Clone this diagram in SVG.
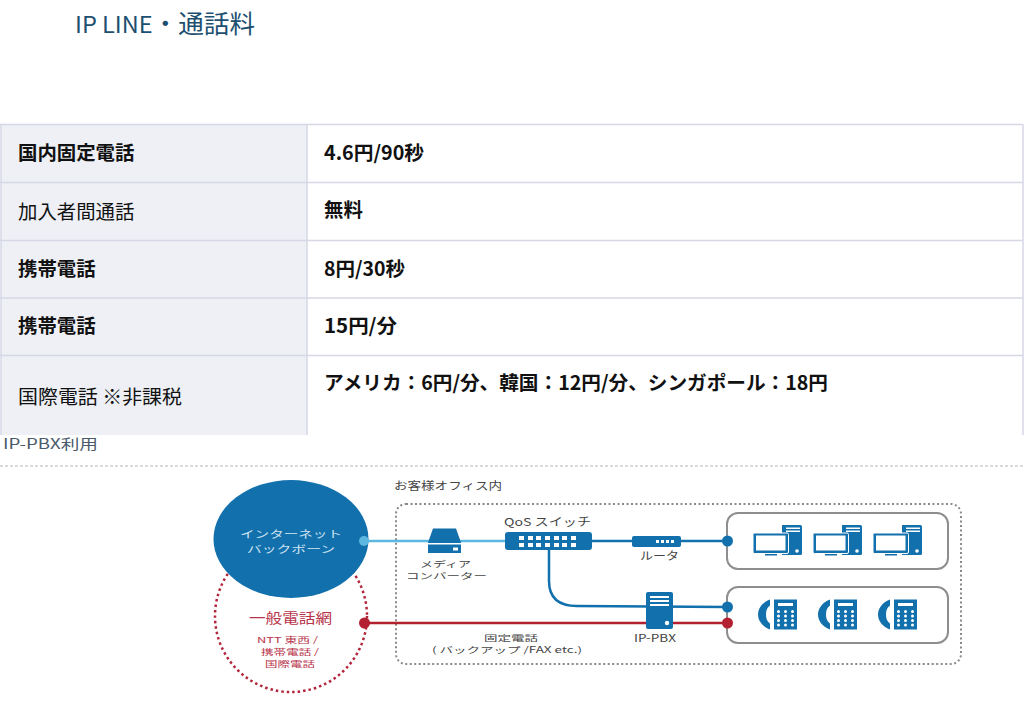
<svg xmlns="http://www.w3.org/2000/svg" xmlns:xlink="http://www.w3.org/1999/xlink" width="1024" height="706" viewBox="0 0 1024 706">
<style>
text{font-family:"Noto Sans CJK JP","Noto Sans",sans-serif}
.cell{font-size:19.400px;fill:#111}
.b{font-weight:700}
.d{font-size:11px;fill:#444}
.s{font-size:8.500px;fill:#444}
.w{font-size:10px;fill:#cfe3f2}
.r{font-size:8.200px;fill:#b8344a}
.grid{stroke:#d6d8e6;stroke-width:1.500;fill:none}
.ic{fill:#1270ad}
.box{fill:#fff;stroke:#8e8e8e;stroke-width:2}
</style>
<defs>
<g id="pc">
<path class="ic" d="M29 0h18.500a1.500 1.500 0 0 1 1.500 1.500v27a1.500 1.500 0 0 1-1.500 1.500h-18.500z"/>
<rect x="33" y="2.500" width="14" height="1.500" fill="#fff"/>
<rect x="33" y="5.500" width="14" height="1.500" fill="#fff"/>
<circle cx="44" cy="26" r="1.800" fill="#fff"/>
<rect x="0" y="8" width="35.500" height="20.500" rx="1.500" class="ic" stroke="#fff" stroke-width="1"/>
<rect x="3" y="10.500" width="29.500" height="15" fill="#fff"/>
<rect x="12" y="29" width="12" height="1.500" class="ic"/>
</g>
<g id="tel">
<path class="ic" d="M12 0C4 3 0 9 0 15s4 12 12 15v-6c-3-2-4-5-4-9s1-7 4-9z"/>
<rect x="16" y="0" width="23" height="30" class="ic"/>
<rect x="20" y="3.500" width="15" height="3" fill="#fff"/>
<g fill="#fff"><circle cx="20.500" cy="12" r="1.500"/><circle cx="27.500" cy="12" r="1.500"/><circle cx="34.500" cy="12" r="1.500"/><circle cx="20.500" cy="16.500" r="1.500"/><circle cx="27.500" cy="16.500" r="1.500"/><circle cx="34.500" cy="16.500" r="1.500"/><circle cx="20.500" cy="21" r="1.500"/><circle cx="27.500" cy="21" r="1.500"/><circle cx="34.500" cy="21" r="1.500"/><circle cx="20.500" cy="25.500" r="1.500"/><circle cx="27.500" cy="25.500" r="1.500"/><circle cx="34.500" cy="25.500" r="1.500"/></g>
</g>
</defs>
<rect width="1024" height="706" fill="#fff"/>
<text x="75" y="33" font-size="23" fill="#1d4f70" textLength="180" lengthAdjust="spacingAndGlyphs">IP LINE<tspan font-size="25">・通話料</tspan></text>

<g id="table">
<rect x="1" y="125" width="306" height="310" fill="#eef0f5"/>
<path class="grid" d="M0 124.500H1023M0 182.500H1023M0 240.500H1023M0 298H1023M0 355.500H1023M1 124.500V435M307 124.500V435M1023 124.500V435"/>
<text class="cell b" x="18" y="160">国内固定電話</text>
<text class="cell" x="18" y="219">加入者間通話</text>
<text class="cell b" x="18" y="275.500">携帯電話</text>
<text class="cell b" x="18" y="333">携帯電話</text>
<text class="cell" x="18" y="404" textLength="164" lengthAdjust="spacingAndGlyphs">国際電話 ※非課税</text>
<text class="cell b" x="324" y="160" textLength="100" lengthAdjust="spacingAndGlyphs">4.6円/90秒</text>
<text class="cell b" x="324" y="217">無料</text>
<text class="cell b" x="324" y="275.500" textLength="81" lengthAdjust="spacingAndGlyphs">8円/30秒</text>
<text class="cell b" x="324" y="333" textLength="73" lengthAdjust="spacingAndGlyphs">15円/分</text>
<text class="cell b" x="324" y="390" textLength="504" lengthAdjust="spacingAndGlyphs">アメリカ：6円/分、韓国：12円/分、シンガポール：18円</text>
</g>
<text x="3" y="449" font-size="14" fill="#4a5a6a" textLength="95" lengthAdjust="spacingAndGlyphs">IP-PBX利用</text>
<path d="M0 466H1024" stroke="#b5b5b5" stroke-width="1" stroke-dasharray="3 2"/>

<text class="d" x="394" y="490" font-size="12" textLength="108" lengthAdjust="spacingAndGlyphs">お客様オフィス内</text>
<rect id="office" x="396" y="504" width="565" height="160" rx="10" fill="none" stroke="#8a8a8a" stroke-width="2" stroke-dasharray="2 2.500"/>

<g id="pstn">
<ellipse cx="291" cy="616" rx="76" ry="76" fill="#fff" stroke="#b3253a" stroke-width="2.500" stroke-dasharray="2.500 3"/>
<text x="249" y="623" font-size="14" fill="#b8344a" textLength="83" lengthAdjust="spacingAndGlyphs">一般電話網</text>
<text class="r" x="257" y="643" textLength="61" lengthAdjust="spacingAndGlyphs">NTT 東西 /</text>
<text class="r" x="261" y="655" textLength="58" lengthAdjust="spacingAndGlyphs">携帯電話 /</text>
<text class="r" x="265" y="667" textLength="50" lengthAdjust="spacingAndGlyphs">国際電話</text>
</g>
<g id="internet">
<ellipse cx="291" cy="539" rx="77.500" ry="59" fill="#1270ad"/>
<text class="w" x="240" y="538" textLength="102" lengthAdjust="spacingAndGlyphs">インターネット</text>
<text class="w" x="247" y="553" textLength="88" lengthAdjust="spacingAndGlyphs">バックボーン</text>
</g>

<g id="connectors" fill="none">
<path d="M364 541H505" stroke="#5cb8e0" stroke-width="2.500"/>
<circle cx="364" cy="541" r="5" fill="#5cb8e0"/>
<path d="M592 541H727" stroke="#1270ad" stroke-width="2.500"/>
<path d="M549 550V581Q549 606 577 606L727 607" stroke="#1270ad" stroke-width="2.500"/>
<path d="M364 623H727" stroke="#b3202f" stroke-width="2.500"/>
<circle cx="364.500" cy="623" r="5.500" fill="#b3202f"/>
</g>

<g id="terminals">
<rect class="box" x="727" y="513" width="221" height="56" rx="11"/>
<rect class="box" x="727" y="587" width="221" height="56" rx="11"/>
<circle cx="727.500" cy="541" r="5.500" fill="#1270ad"/>
<circle cx="727.500" cy="607" r="5.500" fill="#1270ad"/>
<circle cx="727.500" cy="623" r="5.500" fill="#b3202f"/>
<use xlink:href="#pc" href="#pc" x="753" y="525"/>
<use xlink:href="#pc" href="#pc" x="813" y="525"/>
<use xlink:href="#pc" href="#pc" x="873" y="525"/>
<use xlink:href="#tel" href="#tel" x="758" y="599.500"/>
<use xlink:href="#tel" href="#tel" x="818" y="599.500"/>
<use xlink:href="#tel" href="#tel" x="878" y="599.500"/>
</g>

<g id="media">
<path class="ic" d="M433 528.500h23l5 14v10.500h-33v-10.500z"/>
<rect x="428" y="543" width="33" height="1.500" fill="#fff"/>
<rect x="453" y="547.500" width="5" height="3" fill="#fff"/>
<text class="s" x="420" y="566.500" textLength="51" lengthAdjust="spacingAndGlyphs">メディア</text>
<text class="s" x="406" y="578.500" textLength="81" lengthAdjust="spacingAndGlyphs">コンバーター</text>
</g>
<g id="switch">
<text class="d" x="504" y="526" font-size="12" textLength="87" lengthAdjust="spacingAndGlyphs">QoS スイッチ</text>
<rect x="505" y="532" width="87" height="18" rx="3" class="ic"/>
<path d="M519 536h5v4h-5zM528 536h5v4h-5zM536 536h5v4h-5zM545 536h5v4h-5zM554 536h5v4h-5zM562 536h5v4h-5zM571 536h5v4h-5zM519 543h5v4h-5zM528 543h5v4h-5zM536 543h5v4h-5zM545 543h5v4h-5zM554 543h5v4h-5zM562 543h5v4h-5zM571 543h5v4h-5z" fill="#fff"/>
</g>
<g id="router">
<rect x="632" y="536" width="49" height="11" rx="2" class="ic"/>
<path d="M656 540h3v3h-3zM661 540h3v3h-3zM666 540h3v3h-3zM671 540h3v3h-3z" fill="#fff"/>
<text class="d" x="640" y="560" textLength="39" lengthAdjust="spacingAndGlyphs">ルータ</text>
</g>
<g id="pbx">
<rect x="646" y="592" width="27" height="37" rx="2" class="ic"/>
<path d="M650 596h19v2h-19zM650 600h19v2h-19zM650 604h19v2h-19z" fill="#fff"/>
<circle cx="667" cy="623" r="2.200" fill="#fff"/>
<text class="d" x="634" y="642" textLength="42" lengthAdjust="spacingAndGlyphs">IP-PBX</text>
</g>
<g id="fixed">
<text class="s" x="484" y="641" textLength="54" lengthAdjust="spacingAndGlyphs">固定電話</text>
<text class="s" x="432" y="653" textLength="150" lengthAdjust="spacingAndGlyphs">( バックアップ /FAX etc.)</text>
</g>
</svg>
